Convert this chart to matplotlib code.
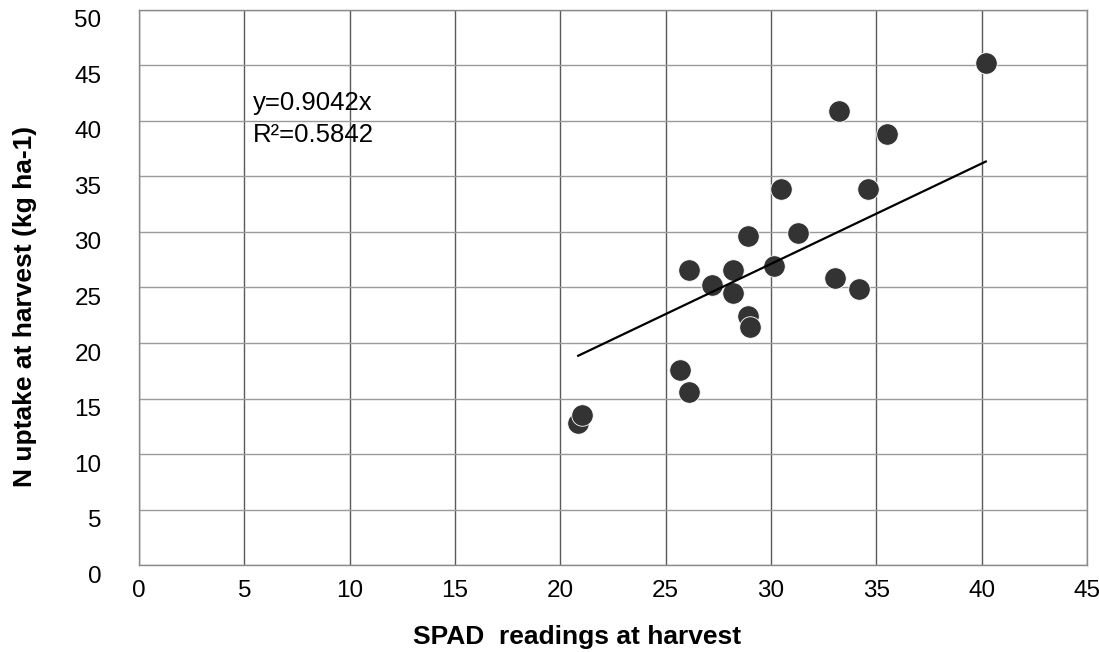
import matplotlib
matplotlib.use("Agg")
import matplotlib.pyplot as plt
import matplotlib.transforms as mtransforms
import numpy as np

# SPAD readings vs N uptake
spad = [20.85, 21.05, 25.7, 26.1, 26.1, 27.2, 28.2, 28.2, 28.9, 29.0,
        28.9, 30.15, 31.3, 33.05, 34.2, 33.25, 30.5, 34.6, 35.5, 40.2]
n_uptake = [12.8, 13.5, 17.6, 15.6, 26.6, 25.2, 26.6, 24.5, 22.4, 21.4,
            29.6, 26.9, 29.9, 25.9, 24.9, 40.9, 33.9, 33.9, 38.8, 45.2]
slope = 0.9042
r2 = 0.5842
xticks = [0, 5, 10, 15, 20, 25, 30, 35, 40, 45]
yticks = [0, 5, 10, 15, 20, 25, 30, 35, 40, 45, 50]

plt.rcParams["font.family"] = ["Liberation Sans", "DejaVu Sans"]

fig = plt.figure(figsize=(10.99, 6.52), dpi=100)
ax = fig.add_axes([0.1265, 0.1334, 0.8625, 0.8513])

ax.set_xlim(0, 45)
ax.set_ylim(0, 50)
ax.set_xticks(xticks)
ax.set_yticks(yticks)
ax.grid(True, axis="x", color="#5a5a5a", linewidth=1.0)
ax.grid(True, axis="y", color="#9a9a9a", linewidth=1.0)
ax.set_axisbelow(True)
for sp in ax.spines.values():
    sp.set_color("#8a8a8a")
    sp.set_linewidth(1.0)

ax.tick_params(axis="both", length=0, labelsize=17.5)
ax.tick_params(axis="x", pad=11)
ax.tick_params(axis="y", pad=27)
# Excel-style: y labels sit a bit below their gridlines
off = mtransforms.ScaledTranslation(0, -9 / 100, fig.dpi_scale_trans)
for lab in ax.get_yticklabels():
    lab.set_transform(lab.get_transform() + off)
    lab.set_horizontalalignment("right")

ax.scatter(spad, n_uptake, s=240, color="#333333", edgecolors="white",
           linewidths=0.6, zorder=3)

xs = np.array([min(spad), max(spad)])
ax.plot(xs, slope * xs, color="black", linewidth=1.6, zorder=4)

ax.text(5.4, 41.6, "y=%.4fx" % slope, fontsize=18.5, va="center", ha="left")
ax.text(5.4, 38.7, "R²=%.4f" % r2, fontsize=18.5, va="center", ha="left")

ax.set_xlabel("SPAD  readings at harvest", fontsize=19, fontweight="bold")
ax.xaxis.set_label_coords(0.462, -0.108)
ax.set_ylabel("N uptake at harvest (kg ha-1)", fontsize=19,
              fontweight="bold")
ax.yaxis.set_label_coords(-0.108, 0.465)

fig.savefig("out.png", dpi=100)
